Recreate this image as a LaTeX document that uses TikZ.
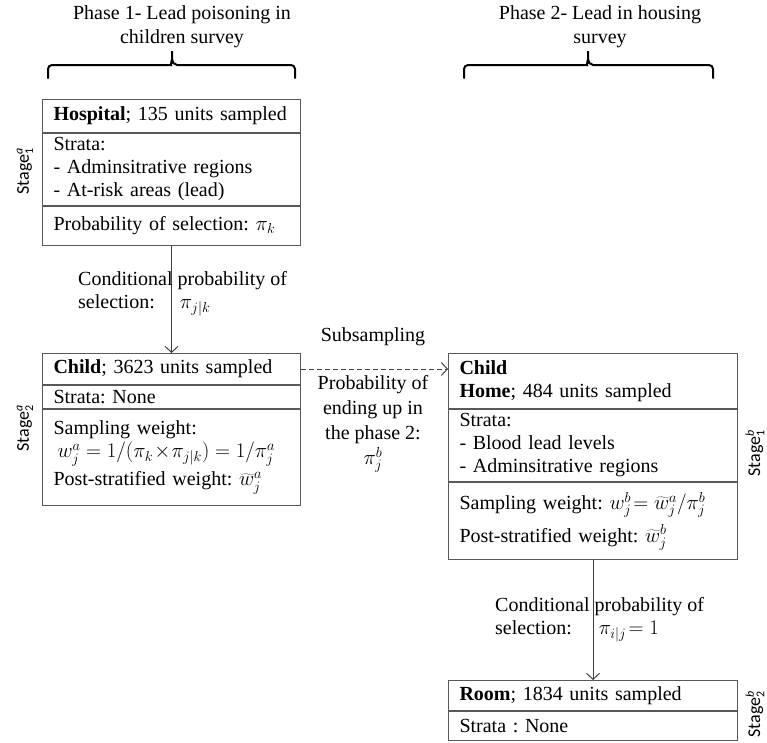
\documentclass[tikz,border=0pt]{standalone}
\usepackage{fontspec}
\setmainfont{Liberation Serif}
\newfontfamily\stagefont{Carlito}
\usetikzlibrary{positioning,arrows.meta}
\frenchspacing

% stage tag with script letters
\newcommand{\stagetag}[2]{Stage$^{\mbox{\fontsize{12}{12}\selectfont\itshape #1}}_{\mbox{\fontsize{12}{12}\selectfont #2}}$}

\tikzset{
  cell/.style={draw=black!65, line width=1pt, anchor=north west, inner xsep=11pt, inner ysep=0pt, text width=#1, align=left},
  link/.style={draw=black!75, line width=1pt, -{Straight Barb[length=6pt,width=13pt]}},
  sublink/.style={link, dash pattern=on 5pt off 3pt},
  phase/.style={line width=2pt, line cap=round},
  stagelbl/.style={rotate=90, font=\stagefont\fontsize{18}{20}\selectfont, inner sep=0pt},
}

\begin{document}
\begin{tikzpicture}[x=1pt,y=-1pt,font=\fontsize{20}{23}\selectfont]
\useasboundingbox (0,0) rectangle (767,742);
%\draw[help lines] (0,0) grid[step=50] (767,742);

% phase headings
\node[align=center,font=\fontsize{20}{24}\selectfont] (ph1) at (182,27) {Phase 1- Lead poisoning in\\children survey};
\node[align=center,font=\fontsize{20}{24}\selectfont] (ph2) at (600,27) {Phase 2- Lead in housing\\survey};
\foreach \xa/\xm/\xb in {48/172/295,464/588/713}
  \draw[phase] (\xa,78) [rounded corners=4pt] |- (\xm-5,65) [sharp corners]
    to[out=0,in=-90] (\xm,59) -- (\xm,51) -- (\xm,59) to[out=-90,in=180] (\xm+5,65)
    [rounded corners=4pt] -| (\xb,78);

% phase 1, stage 1: hospitals
\node[cell=236pt, minimum height=33pt] (h1) at (42,99) {\textbf{Hospital}; 135 units sampled};
\node[cell=236pt, minimum height=72pt, below=0pt of h1] (h2) {Strata:\\- Adminsitrative regions\\- At-risk areas (lead)};
\node[cell=236pt, minimum height=39pt, below=0pt of h2] (h3) {Probability of selection: $\pi_k$};

% phase 1, stage 2: children
\node[cell=236pt, minimum height=31pt] (c1) at (42,353) {\textbf{Child}; 3623 units sampled};
\node[cell=236pt, minimum height=23pt, below=0pt of c1] (c2) {Strata: None};
\node[cell=236pt, minimum height=96pt, below=0pt of c2] (c3) {Sampling weight:\\\hspace*{4pt}$w_j^a = 1/(\pi_k\!\times\!\pi_{j|k}) = 1/\pi_j^a$\\[5pt]Post-stratified weight: $\widetilde{w}_j^a$};

% phase 2, stage 1: homes
\node[cell=267pt, minimum height=55pt] (k1) at (448,353) {\textbf{Child}\\\textbf{Home}; 484 units sampled};
\node[cell=267pt, minimum height=72pt, below=0pt of k1] (k2) {Strata:\\- Blood lead levels\\- Adminsitrative regions};
\node[cell=267pt, minimum height=77pt, below=0pt of k2] (k3) {Sampling weight: $w_j^b\!= \widetilde{w}_j^a/\pi_j^b$\\[6pt]Post-stratified weight: $\widetilde{w}_j^b$};

% phase 2, stage 2: rooms
\node[cell=267pt, minimum height=30pt] (r1) at (448,680) {\textbf{Room}; 1834 units sampled};
\node[cell=267pt, minimum height=29pt, below=0pt of r1] (r2) {Strata : None};

% stage labels
\node[stagelbl] (s1a) at (25,171) {\stagetag{a}{1}};
\node[stagelbl] (s2a) at (25,428) {\stagetag{a}{2}};
\node[stagelbl] (s1b) at (755,453) {\stagetag{b}{1}};
\node[stagelbl] (s2b) at (755,714) {\stagetag{b}{2}};

% links
\draw[link] (h3.south) -- (c1.north);
\node[anchor=west,align=left,inner sep=0pt] (p1) at (78,294) {Conditional probability of\\selection:\hspace{25pt}$\pi_{j|k}$};
\draw[sublink] (c1.east) -- (c1.east -| k1.west);
\node[inner sep=0pt] (sub) at (373,337) {Subsampling};
\node[align=center,inner sep=0pt,font=\fontsize{20}{25}\selectfont] (p2) at (373,424) {Probability of\\ending up in\\the phase 2:\\$\pi_j^b$};
\draw[link] (k3.south) -- (r1.north);
\node[anchor=west,align=left,inner sep=0pt] (p3) at (495,620) {Conditional probability of\\selection:\hspace{27pt}$\pi_{i|j}\!= 1$};
\end{tikzpicture}
\end{document}
